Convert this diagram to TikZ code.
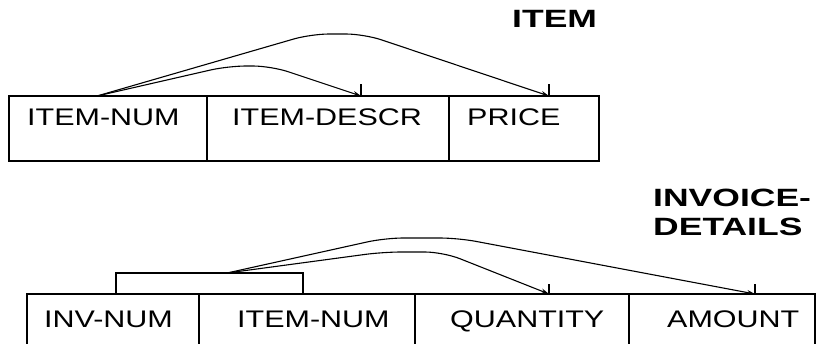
\documentclass[tikz,border=0pt]{standalone}
\usepackage{fontspec}
\setmainfont{Liberation Sans}[FakeStretch=1.27]
\newfontfamily\titlefont{Liberation Sans}[FakeStretch=1.42]
\usetikzlibrary{arrows.meta, positioning}

\begin{document}
\begin{tikzpicture}[
  x=1pt, y=-1pt,
  cell/.style={rectangle, draw, line width=1.8pt, anchor=north west, minimum height=65pt, inner sep=0pt, outer sep=0pt},
  fld/.style={anchor=base west, inner sep=0pt, font=\fontsize{24}{28}\selectfont},
  title/.style={anchor=base west, inner sep=0pt, align=left, font=\titlefont\bfseries\fontsize{25}{29}\selectfont},
  link/.style={-{Stealth[length=8pt, width=5pt]}, line width=1.1pt, rounded corners=18pt},
  endbar/.style={line width=1.1pt}
]
\useasboundingbox (0,0) rectangle (816,343);
\clip (0,0) rectangle (816,343);

% ITEM
\node[title] (ttl1) at (512,27) {ITEM};
\node[cell, minimum width=198pt] (inum) at (9,96) {};
\node[cell, minimum width=242pt, right=0pt of inum] (descr) {};
\node[cell, minimum width=150pt, right=0pt of descr] (price) {};
\node[fld] (inumt) at ([shift={(18,29)}]inum.north west) {ITEM-NUM};
\node[fld] (descrt) at ([shift={(25,29)}]descr.north west) {ITEM-DESCR};
\node[fld] (pricet) at ([shift={(18,29)}]price.north west) {PRICE};

% INVOICE-DETAILS
\node[title] (ttl2) at (653,235) {INVOICE-\\DETAILS};
\node[cell, minimum width=172pt, minimum height=70pt] (inv) at (27,294) {};
\node[cell, minimum width=216pt, minimum height=70pt, right=0pt of inv] (item) {};
\node[cell, minimum width=214pt, minimum height=70pt, right=0pt of item] (qty) {};
\node[cell, minimum width=186pt, minimum height=70pt, right=0pt of qty] (amt) {};
\node[cell, minimum width=187pt, minimum height=21pt, anchor=south west] (key) at ([xshift=89pt]inv.north west) {};
\node[fld] (invt) at ([shift={(17,33)}]inv.north west) {INV-NUM};
\node[fld] (itemt) at ([shift={(38,33)}]item.north west) {ITEM-NUM};
\node[fld] (qtyt) at ([shift={(35,33)}]qty.north west) {QUANTITY};
\node[fld] (amtt) at ([shift={(38,33)}]amt.north west) {AMOUNT};

% dependencies
\coordinate (s1) at ([xshift=88pt]inum.north west);
\coordinate (e1) at ([xshift=154pt]descr.north west);
\coordinate (e2) at ([xshift=100pt]price.north west);
\coordinate (s2) at ([xshift=111pt]key.north west);
\coordinate (e3) at ([xshift=134pt]qty.north west);
\coordinate (e4) at ([xshift=126pt]amt.north west);
\draw[link] (s1) -- (228,66) -- (271,66) -- (e1);
\draw[link] (s1) -- (311,34) -- (364,34) -- (e2);
\draw[link] (s2) -- (383,252) -- (443,252) -- (e3);
\draw[link] (s2) -- (385,238) -- (458,238) -- (e4);
\draw[endbar] (e1) -- ++(0,-12);
\draw[endbar] (e2) -- ++(0,-12);
\draw[endbar] (e3) -- ++(0,-10);
\draw[endbar] (e4) -- ++(0,-10);
\end{tikzpicture}
\end{document}
